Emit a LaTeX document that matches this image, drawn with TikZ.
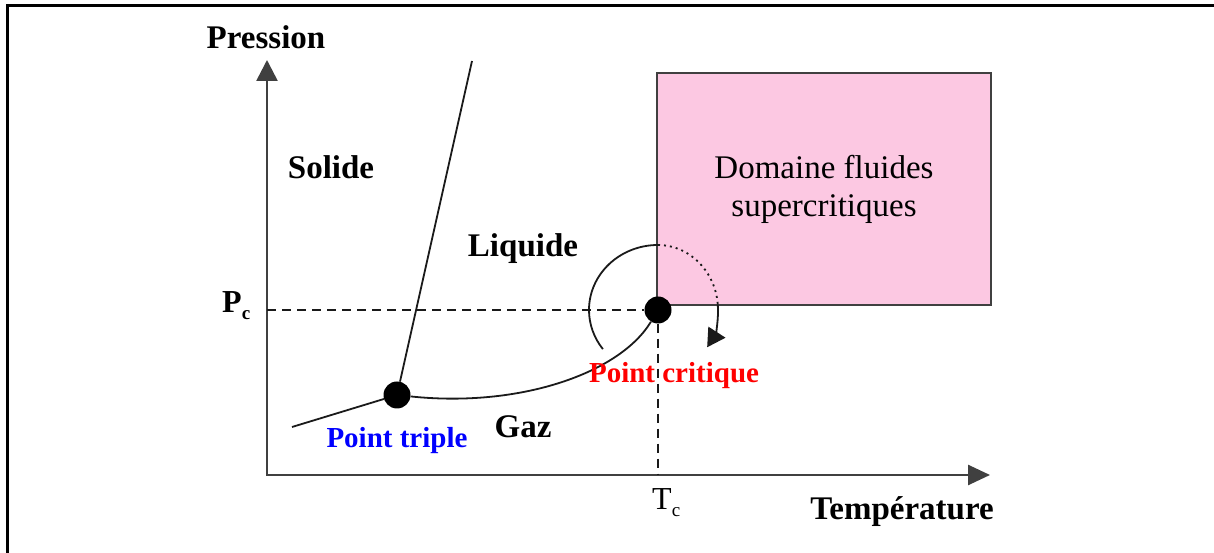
\documentclass[tikz,border=0pt]{standalone}
\usepackage{fontspec}
\setmainfont{Liberation Serif}
\usepackage{xcolor}
\usetikzlibrary{arrows.meta}
\definecolor{ink}      {HTML}{1A1A1A}
\definecolor{axisgray} {HTML}{404040}
\definecolor{superpink}{RGB}{252,200,226}
\definecolor{tripleblue}{HTML}{0000FF}
\definecolor{critred}  {HTML}{FF0000}
\tikzset{
  axisline/.style  ={draw=axisgray, line width=2.6pt,
                     {Triangle[length=21pt,width=21pt]}-{Triangle[length=22pt,width=20pt]}},
  phaseline/.style ={draw=ink, line width=1.8pt},
  guideline/.style ={draw=ink, line width=1.8pt, dash pattern=on 9pt off 6pt},
  dotline/.style   ={draw=ink, line width=1.8pt, dash pattern=on 2pt off 4pt},
  phaselabel/.style={font=\fontsize{33}{38}\selectfont\bfseries, anchor=base, inner sep=0pt},
  pointlabel/.style={font=\fontsize{29}{34}\selectfont\bfseries, anchor=base, inner sep=0pt},
  symlabel/.style  ={font=\fontsize{32}{38}\selectfont, anchor=base west, inner sep=0pt},
  phasedot/.style  ={circle, fill=black, minimum size=27pt, inner sep=0pt},
  fluidbox/.style  ={draw=axisgray, fill=superpink, line width=2pt,
                     minimum width=334pt, minimum height=232pt,
                     align=center, font=\fontsize{33}{38}\selectfont},
}
\newcommand{\subc}{\raisebox{-7pt}{\fontsize{19}{19}\selectfont c}}

\begin{document}
\begin{tikzpicture}[x=1pt,y=1pt]
  \useasboundingbox (0,0) rectangle (1214,553);
  % cadre
  \draw[line width=3pt] (7,0) -- (7,547) -- (1214,547);
  % domaine supercritique
  \node[fluidbox] (fluide) at (824,364) {Domaine fluides\\supercritiques};
  % axes
  \coordinate (O) at (267,78);
  \coordinate (ytip) at (267,493);
  \coordinate (xtip) at (990,78);
  \draw[axisline] (ytip) -- (O) -- (xtip);
  \node[phaselabel] (pression) at (266,504) {Pression};
  \node[phaselabel] (temperature) at (902,33) {Température};
  % points
  \node[phasedot] (crit) at (658,243) {};
  \node[phasedot] (triple) at (397,158) {};
  % Pc et Tc
  \coordinate (pcaxis) at (O |- crit);
  \coordinate (tcaxis) at (crit |- O);
  \draw[guideline] (pcaxis) -- (crit);
  \draw[guideline] (crit) -- (tcaxis);
  \node[symlabel] (pc) at (222,240) {\bfseries P\subc};
  \node[symlabel] (tc) at (652,43) {T\subc};
  % courbes d'equilibre
  \coordinate (sublim) at (292,126);
  \coordinate (fusion) at (472,492);
  \draw[phaseline] (sublim) -- (triple);
  \draw[phaseline] (triple) -- (fusion);
  \draw[phaseline] (triple) .. controls (520,145) and (620,180) .. (crit);
  % contournement du point critique
  \draw[phaseline] ([yshift=65pt]crit.center)
    arc[start angle=90, end angle=217, x radius=69, y radius=65];
  \draw[dotline] ([yshift=65pt]crit.center)
    arc[start angle=90, end angle=5, x radius=60, y radius=65];
  \draw[phaseline, -{Triangle[length=18pt,width=20pt]}] ([shift={(5:60 and 65)}]crit.center)
    arc[start angle=5, end angle=-35, x radius=60, y radius=65];
  % domaines
  \node[phaselabel] (solide) at (331,374) {Solide};
  \node[phaselabel] (liquide) at (523,296) {Liquide};
  \node[phaselabel] (gaz) at (523,115) {Gaz};
  \node[pointlabel, text=tripleblue] (ptriple) at (397,105) {Point triple};
  \node[pointlabel, text=critred] (pcrit) at (674,170) {Point critique};
\end{tikzpicture}
\end{document}
